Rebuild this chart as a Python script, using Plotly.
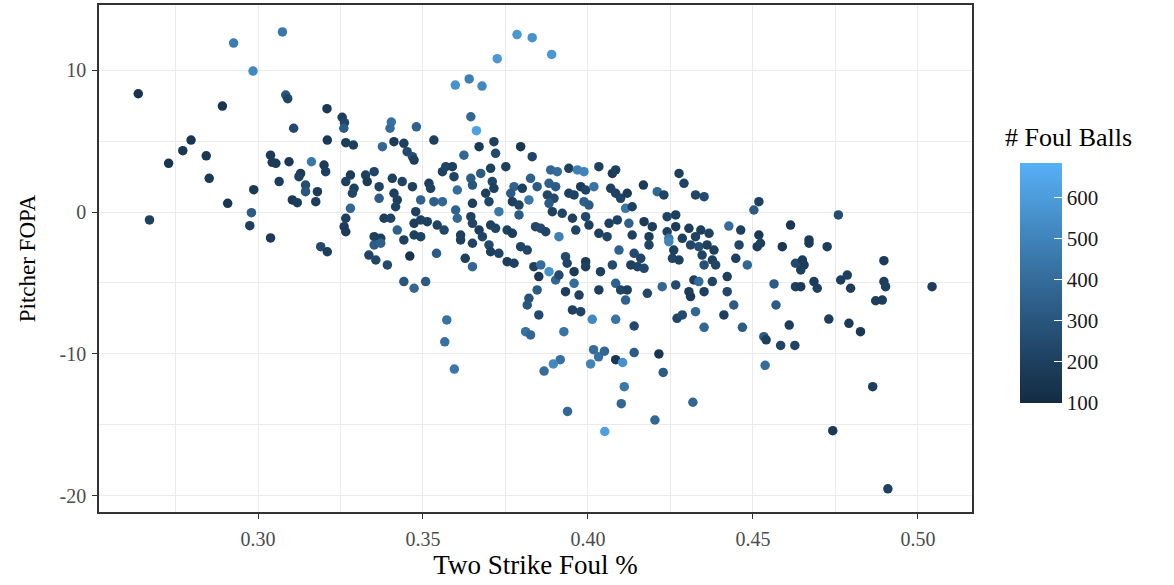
import plotly.graph_objects as go
import numpy as np

# ---- data ----
two_strike_foul_pct = [
    # top outliers
    0.2637,0.2926,0.3074,0.2985,0.2892,0.3084,0.309,0.3108,0.3209,0.3255,0.3262,0.326,0.3404,0.34,0.348,0.3598,0.364,0.3679,0.3645,0.3662,0.3725,0.3785,0.3831,0.389,
    # left
    0.2729,0.2772,0.2843,0.2852,0.2908,0.2987,0.298,0.2975,0.2671,0.2797,0.3038,0.3043,0.3038,
    # 0.30-0.36 upper band
    0.321,0.3266,0.3289,0.3377,0.3412,0.3442,0.3452,0.3468,0.3473,0.3533,0.3559,0.3569,0.3054,0.3094,0.3162,0.32,0.3205,0.3129,0.3124,0.3064,
    0.3144,0.3144,0.318,0.3175,0.3104,0.3119,0.328,0.3266,0.3291,0.3286,0.3326,0.3352,0.3331,0.3367,0.3367,0.3407,0.3437,0.3412,0.3422,0.3417,
    0.3468,0.3518,0.3523,0.3493,0.3533,0.3559,0.3478,0.328,0.3266,0.3261,0.3266,0.3382,0.3402,0.3473,0.3493,0.3513,0.3543,0.3564,0.3352,0.3372,
    0.3422,0.3473,0.3493,
    # 0.36-0.41 upper band
    0.367,0.3715,0.372,0.3624,0.3796,0.3831,0.3751,0.3705,0.3675,0.3589,0.3594,0.3645,0.365,0.371,0.3715,0.3604,0.369,0.37,0.365,0.3776,
    0.3766,0.3801,0.3826,0.3846,0.3821,0.3771,0.3791,0.3887,0.3907,0.3942,0.3968,0.3988,0.3882,0.3902,0.3877,0.3897,0.3882,0.3942,0.3958,0.3978,
    0.3993,0.4018,0.4033,0.4074,0.4084,0.4069,0.4084,0.4099,0.3988,0.4003,0.3599,0.3604,0.3645,0.365,0.373,0.3791,0.3705,0.372,0.3755,0.3771,
    0.3841,0.3857,0.3872,0.3892,0.3922,0.3953,0.3963,0.3993,0.4003,0.4064,0.4089,0.3614,0.367,0.368,0.4033,0.4058,0.3912,
    # 0.41-0.48 upper band
    0.4276,0.4291,0.4168,0.421,0.423,0.4326,0.4352,0.4119,0.4114,0.4134,0.4518,0.4503,0.4614,0.417,0.4195,0.424,0.4266,0.4124,0.4306,0.4342,
    0.4367,0.4427,0.4463,0.4518,0.424,0.4266,0.4185,0.4134,0.4245,0.4286,0.4326,0.4759,0.467,
    # 0.31-0.36 lower band
    0.319,0.321,0.3336,0.3357,0.3392,0.3352,0.3372,0.3442,0.346,0.3541,0.3442,0.3473,0.3508,0.3572,
    # 0.36-0.41 lower band
    0.3614,0.365,0.3628,0.365,0.37,0.373,0.3705,0.3755,0.3776,0.3796,0.3816,0.3836,0.3857,0.3851,0.3882,0.3902,0.3912,0.3932,0.3937,0.3958,
    0.3993,0.3993,0.4038,0.4074,0.4094,0.3958,0.3846,0.3932,0.3973,0.4033,0.4084,0.4099,0.3821,0.3816,0.3851,0.3953,0.3978,0.4013,0.4084,0.3811,
    0.3826,0.3927,
    # 0.41-0.47 lower band
    0.414,0.416,0.413,0.415,0.417,0.4185,0.4245,0.426,0.4256,0.4276,0.4311,0.4336,0.4346,0.4361,0.4382,0.4352,0.4377,0.4387,0.4448,0.4458,
    0.4483,0.4513,0.4523,0.4589,0.4629,0.4119,0.4114,0.418,0.4225,0.4266,0.4321,0.4336,0.4306,0.4311,0.4352,0.4377,0.4422,0.4422,0.4442,0.4412,
    0.4326,0.427,0.4286,0.4352,0.4468,0.414,0.4564,0.457,0.461,0.4533,0.4629,
    # right
    0.467,0.4725,0.465,0.4655,0.4645,0.4685,0.4695,0.4645,0.4766,0.4786,0.4796,0.4897,0.4897,0.4902,0.4872,0.4892,0.5043,0.473,0.4791,0.4826,
    # bottom outliers
    0.3566,0.3595,0.4017,0.4032,0.405,0.4084,0.4105,0.414,0.4215,0.4008,0.3916,0.3895,0.3867,0.4228,0.411,0.4101,0.3938,0.4203,0.4051,0.4318,
    0.454,0.4584,0.4627,0.4537,0.4863,0.4742,0.4909,
]

pitcher_fopa = [
    8.33,11.9,12.68,9.93,7.46,8.24,7.98,5.9,7.28,6.67,6.29,5.9,6.34,5.9,6.0,8.94,9.37,8.87,6.71,5.73,10.8,12.5,12.28,11.1,
    3.43,4.32,3.96,2.37,0.61,1.57,-0.05,-0.96,-0.56,5.07,4.0,3.5,-1.83,
    5.07,4.88,4.72,4.6,4.95,4.84,4.25,3.9,3.66,5.07,2.84,3.19,3.43,3.54,3.54,3.31,2.84,2.72,2.49,2.14,
    1.9,1.43,1.43,0.73,0.85,0.66,2.6,2.14,1.67,1.32,2.6,2.84,2.14,1.78,0.96,2.37,2.14,1.32,0.85,0.37,
    1.78,2.02,1.67,0.85,0.73,0.73,0.02,0.26,-0.44,-1.03,-1.39,-0.44,-0.44,-0.8,-0.56,-0.68,-0.92,-1.27,-1.74,-1.85,
    -1.27,-1.62,-1.74,
    4.6,4.95,4.13,4.0,4.6,3.9,3.19,3.08,2.72,3.19,2.49,2.37,1.9,2.14,1.67,1.55,1.32,0.73,0.61,1.78,
    1.32,1.67,2.37,1.78,0.85,0.73,0.49,2.96,2.84,3.08,2.96,2.84,2.02,1.78,1.2,0.96,0.61,1.32,1.2,1.78,
    1.55,1.78,3.19,2.72,2.96,1.67,1.32,0.96,0.73,0.49,0.14,-0.44,-0.33,-0.8,0.02,-0.21,-0.92,-1.15,-1.27,-1.5,
    -1.03,-1.15,-1.39,0.02,-0.09,-0.44,-1.27,-0.33,-0.92,-0.8,-0.56,-1.62,-1.27,-1.74,-1.5,-1.74,-1.74,
    2.72,2.02,1.9,1.43,1.2,1.2,1.08,1.32,0.26,0.37,0.73,0.14,-0.92,-0.68,-1.03,-0.33,-0.21,-0.8,-1.15,-1.27,
    -1.5,-0.99,-1.27,-1.62,-1.39,-1.03,-1.74,-1.62,-1.85,-1.85,-1.74,-0.21,-1.97,
    -2.44,-2.8,-3.03,-3.38,-3.73,-2.32,-2.2,-1.97,-3.1,-2.91,-4.9,-5.37,-4.9,-7.6,
    -1.97,-2.2,-3.26,-3.85,-2.32,-2.91,-2.8,-3.5,-3.61,-2.44,-2.68,-3.85,-3.73,-4.55,-4.2,-4.79,-4.44,-3.15,-3.61,-4.2,
    -3.5,-3.85,-4.2,-3.73,-2.68,-5.02,-5.49,-5.61,-5.85,-5.49,-5.02,-5.49,-6.08,-6.55,-7.25,-6.9,-7.02,-7.56,-7.56,-8.43,
    -8.66,-8.43,
    -2.91,-3.26,-3.73,-3.85,-3.97,-2.32,-2.09,-2.68,-3.26,-3.38,-2.32,-2.44,-3.03,-2.32,-2.68,-3.73,-3.38,-3.73,-3.26,-2.32,
    -3.73,-2.44,-2.2,-2.44,-3.61,-5.49,-6.2,-5.73,-5.26,-5.14,-4.79,-4.9,-5.61,-5.96,-5.61,-4.9,-4.55,-5.61,-6.55,-7.25,
    -7.02,-7.49,-7.25,-8.12,-8.12,-8.03,-5.07,-6.55,-7.96,-8.78,-5.26,
    -2.2,-2.44,-3.38,-3.73,-4.08,-4.9,-5.37,-5.26,-4.79,-4.44,-5.37,-3.43,-4.9,-5.26,-6.25,-6.2,-5.26,-7.54,-7.84,-8.43,
    -9.14,-11.06,-9.7,-10.2,-9.8,-10.4,-10.6,-9.9,-10.0,-10.7,-10.4,-10.7,-11.2,-11.3,-12.3,-13.5,-14.05,-14.65,-15.46,-13.4,
    -9.0,-9.4,-9.4,-10.8,-12.3,-15.4,-19.5,
]

foul_balls = [
    140,470,450,520,160,300,220,250,170,200,220,330,420,400,350,560,480,520,380,620,580,580,560,580,
    150,160,160,170,160,170,330,200,200,150,180,180,180,
    170,190,200,380,180,200,250,260,200,200,200,220,180,170,450,180,200,180,200,190,
    260,300,180,190,170,190,180,200,200,230,200,220,180,210,330,200,220,190,200,210,
    200,190,210,350,340,380,200,380,200,190,180,200,210,190,200,200,210,230,200,190,
    350,200,210,
    170,200,250,380,150,220,200,200,320,200,210,330,300,230,200,400,200,220,200,350,
    330,200,350,330,450,200,220,380,400,200,480,500,350,330,230,250,330,200,220,180,
    220,430,200,180,200,200,210,220,350,330,350,380,200,220,450,330,200,220,200,190,
    230,250,220,200,220,200,220,240,200,200,210,200,190,220,200,220,480,
    200,220,180,380,220,230,250,180,450,200,200,330,160,180,190,220,200,350,190,200,
    210,400,200,160,200,180,190,200,450,200,210,260,170,
    250,190,220,230,250,330,350,200,140,330,300,380,320,430,
    200,220,200,380,250,220,200,190,200,220,230,200,400,160,560,380,250,250,220,180,
    180,200,200,250,350,400,330,190,200,190,350,230,280,300,250,200,220,520,430,420,
    380,430,
    250,220,200,220,240,220,500,200,220,200,230,260,220,200,200,280,200,230,200,230,
    380,190,200,160,250,200,350,230,380,250,200,400,190,180,200,220,200,230,330,200,
    380,220,250,380,330,240,330,330,190,330,200,
    180,190,180,190,200,190,200,180,190,200,190,180,190,200,200,190,190,190,180,170,
    420,450,400,420,380,150,560,330,150,500,420,520,400,330,450,380,380,380,620,380,
    200,220,220,400,190,170,200,
]

x_ticks = [0.30, 0.35, 0.40, 0.45, 0.50]
x_tick_labels = ["0.30", "0.35", "0.40", "0.45", "0.50"]
y_ticks = [-20, -10, 0, 10]
y_tick_labels = ["-20", "-10", "0", "10"]
cbar_ticks = [100, 200, 300, 400, 500, 600]

n = min(len(two_strike_foul_pct), len(pitcher_fopa), len(foul_balls))
xs, ys, cs = two_strike_foul_pct[:n], pitcher_fopa[:n], foul_balls[:n]

# ---- ggplot2 default continuous colour scale (Lab interpolation) ----
def srgb_to_lab(hexc):
    rgb = np.array([int(hexc[i:i + 2], 16) for i in (1, 3, 5)]) / 255.0
    lin = np.where(rgb <= 0.04045, rgb / 12.92, ((rgb + 0.055) / 1.055) ** 2.4)
    M = np.array([[0.4124, 0.3576, 0.1805], [0.2126, 0.7152, 0.0722], [0.0193, 0.1192, 0.9505]])
    xyz = M @ lin / np.array([0.95047, 1.0, 1.08883])
    f = np.where(xyz > 0.008856, np.cbrt(xyz), 7.787 * xyz + 16 / 116)
    return np.array([116 * f[1] - 16, 500 * (f[0] - f[1]), 200 * (f[1] - f[2])])

def lab_to_hex(lab):
    L, a, b = lab
    fy = (L + 16) / 116
    fx = fy + a / 500
    fz = fy - b / 200
    f = np.array([fx, fy, fz])
    xyz = np.where(f ** 3 > 0.008856, f ** 3, (f - 16 / 116) / 7.787) * np.array([0.95047, 1.0, 1.08883])
    Minv = np.array([[3.2406, -1.5372, -0.4986], [-0.9689, 1.8758, 0.0415], [0.0557, -0.2040, 1.0570]])
    lin = Minv @ xyz
    rgb = np.where(lin <= 0.0031308, 12.92 * lin, 1.055 * np.clip(lin, 0, None) ** (1 / 2.4) - 0.055)
    rgb = np.clip(np.round(rgb * 255), 0, 255).astype(int)
    return "#%02X%02X%02X" % tuple(rgb)

lo, hi = srgb_to_lab("#132B43"), srgb_to_lab("#56B1F7")
colorscale = [[t, lab_to_hex(lo + (hi - lo) * t)] for t in np.linspace(0, 1, 11)]

FONT = "Liberation Serif, Times New Roman, serif"

fig = go.Figure(go.Scatter(
    x=xs, y=ys, mode="markers",
    marker=dict(
        size=9.5, color=cs, colorscale=colorscale, cmin=100, cmax=683,
        line=dict(width=0),
        colorbar=dict(
            x=1.055, xanchor="left", y=0.4517, yanchor="middle",
            lenmode="pixels", len=240, thickness=42, thicknessmode="pixels",
            outlinewidth=0, tickvals=cbar_ticks, ticks="inside", ticklen=8,
            tickcolor="white", tickwidth=1,
            tickfont=dict(family=FONT, size=21, color="#1A1A1A"),
            xpad=0, ypad=0,
        ),
    ),
    showlegend=False, hoverinfo="x+y",
))

fig.add_annotation(text="# Foul Balls", xref="paper", yref="paper", x=1.0355, y=0.7396,
                   xanchor="left", yanchor="middle", showarrow=False,
                   font=dict(family=FONT, size=26, color="#000000"))

grid = "#EBEBEB"
fig.update_xaxes(
    range=[0.2518, 0.5164], tickvals=x_ticks, ticktext=x_tick_labels,
    showgrid=True, gridcolor=grid, gridwidth=1.3,
    minor=dict(dtick=0.025, tick0=0.275, showgrid=True, gridcolor=grid, gridwidth=0.7),
    showline=True, mirror=True, linecolor="#333333", linewidth=1.5,
    ticks="outside", ticklen=5, tickcolor="#333333", tickwidth=1,
    ticklabelstandoff=3,
    tickfont=dict(family=FONT, size=20, color="#4D4D4D"), zeroline=False,
    title=dict(text="Two Strike Foul %", font=dict(family=FONT, size=27, color="#000000"), standoff=5),
)
fig.update_yaxes(
    range=[-21.13, 14.58], tickvals=y_ticks, ticktext=y_tick_labels,
    showgrid=True, gridcolor=grid, gridwidth=1.3,
    minor=dict(dtick=5, tick0=-15, showgrid=True, gridcolor=grid, gridwidth=0.7),
    showline=True, mirror=True, linecolor="#333333", linewidth=1.5,
    ticks="outside", ticklen=5, tickcolor="#333333", tickwidth=1,
    ticklabelstandoff=2,
    tickfont=dict(family=FONT, size=20, color="#4D4D4D"), zeroline=False,
    title=dict(text="Pitcher FOPA", font=dict(family=FONT, size=23, color="#000000"), standoff=18),
)
fig.update_layout(
    width=1174, height=585, margin=dict(l=99, r=202, t=5, b=73, autoexpand=False),
    paper_bgcolor="white", plot_bgcolor="white",
    font=dict(family=FONT),
)
fig.write_html("out.html", config={"displayModeBar": False},
               post_script="document.body.style.margin='0px';")
